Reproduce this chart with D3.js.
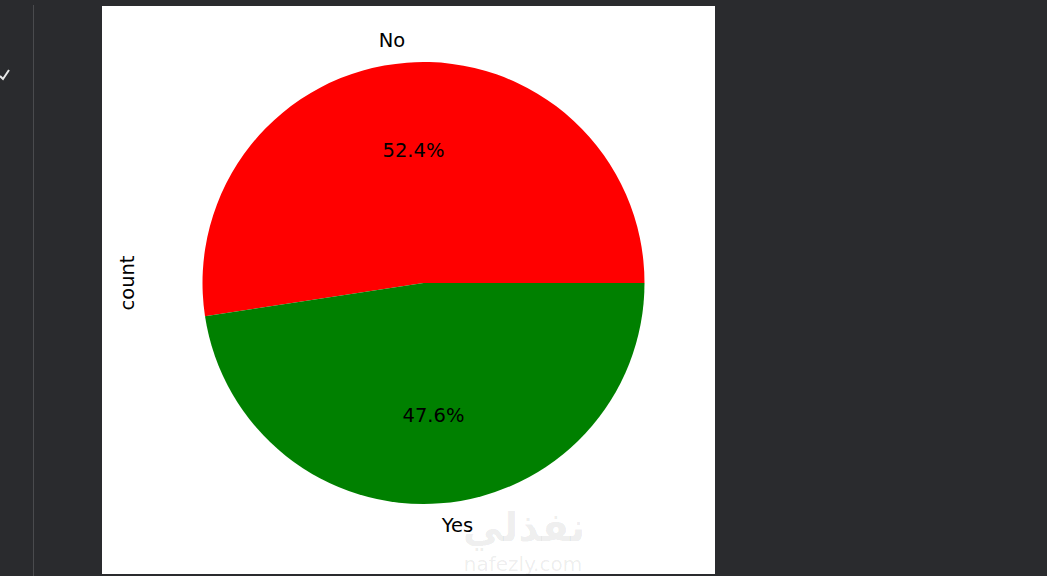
<!DOCTYPE html>
<html><head><meta charset="utf-8">
<script src="https://cdn.jsdelivr.net/npm/d3@7"></script>
<style>body{margin:0;background:#2a2b2e;overflow:hidden}</style>
</head><body>
<script>
const categories = ["No", "Yes"];
const values = [52.4, 47.6];
const colors = ["#ff0000", "#008000"];
const yLabel = "count";

const W = 1047, H = 576;
const svg = d3.select("body").append("svg").attr("width", W).attr("height", H);
svg.append("rect").attr("width", W).attr("height", H).attr("fill", "#2a2b2e");
svg.append("line").attr("x1", 33.5).attr("x2", 33.5).attr("y1", 5).attr("y2", H).attr("stroke", "#4a4b4e").attr("stroke-width", 1);
svg.append("path").attr("d", "M0,76 L3,79 L9,70").attr("fill", "none").attr("stroke", "#e8e8e8").attr("stroke-width", 2);
svg.append("rect").attr("x", 102).attr("y", 6).attr("width", 613).attr("height", 568).attr("fill", "#ffffff");

const cx = 423.5, cy = 283, r = 221;
const font = "'DejaVu Sans', sans-serif";
const total = d3.sum(values);
// matplotlib: start at 0 rad (3 o'clock), counterclockwise
const ang = d3.scaleLinear().domain([0, total]).range([Math.PI / 2, Math.PI / 2 - 2 * Math.PI]);
const pieData = d3.pie().sort(null).value(d => d).startAngle(Math.PI / 2).endAngle(Math.PI / 2 - 2 * Math.PI)(values);
const arc = d3.arc().innerRadius(0).outerRadius(r);
const g = svg.append("g").attr("transform", `translate(${cx},${cy})`);
g.selectAll("path.slice").data(pieData).join("path").attr("class", "slice")
  .attr("d", arc).attr("fill", (d, i) => colors[i]);

pieData.forEach((d, i) => {
  const mid = (d.startAngle + d.endAngle) / 2; // d3 angle: 0 at 12 o'clock clockwise
  const x = Math.sin(mid), y = -Math.cos(mid);
  g.append("text").attr("x", 1.1 * r * x).attr("y", 1.1 * r * y)
    .attr("text-anchor", x > 0 ? "start" : "end").attr("dominant-baseline", "central")
    .attr("font-family", font).attr("font-size", 19.5).attr("fill", "#000").text(categories[i]);
  g.append("text").attr("x", 0.6 * r * x).attr("y", 0.6 * r * y)
    .attr("text-anchor", "middle").attr("dominant-baseline", "central")
    .attr("font-family", font).attr("font-size", 19.5).attr("fill", "#000")
    .text((values[i] / total * 100).toFixed(1) + "%");
});

svg.append("text").attr("transform", `translate(127,${cy}) rotate(-90)`)
  .attr("text-anchor", "middle").attr("dominant-baseline", "central")
  .attr("font-family", font).attr("font-size", 19.5).attr("fill", "#000").text(yLabel);

// watermark
svg.append("text").attr("x", 524).attr("y", 541).attr("text-anchor", "middle")
  .attr("font-family", "'DejaVu Sans', sans-serif").attr("font-weight", "bold").attr("font-size", 40)
  .attr("fill", "#000").attr("fill-opacity", 0.08).text("نفذلي");
svg.append("text").attr("x", 523).attr("y", 571).attr("text-anchor", "middle")
  .attr("font-family", "'DejaVu Sans', sans-serif").attr("font-size", 20)
  .attr("fill", "#000").attr("fill-opacity", 0.08).text("nafezly.com");
</script>
</body></html>
